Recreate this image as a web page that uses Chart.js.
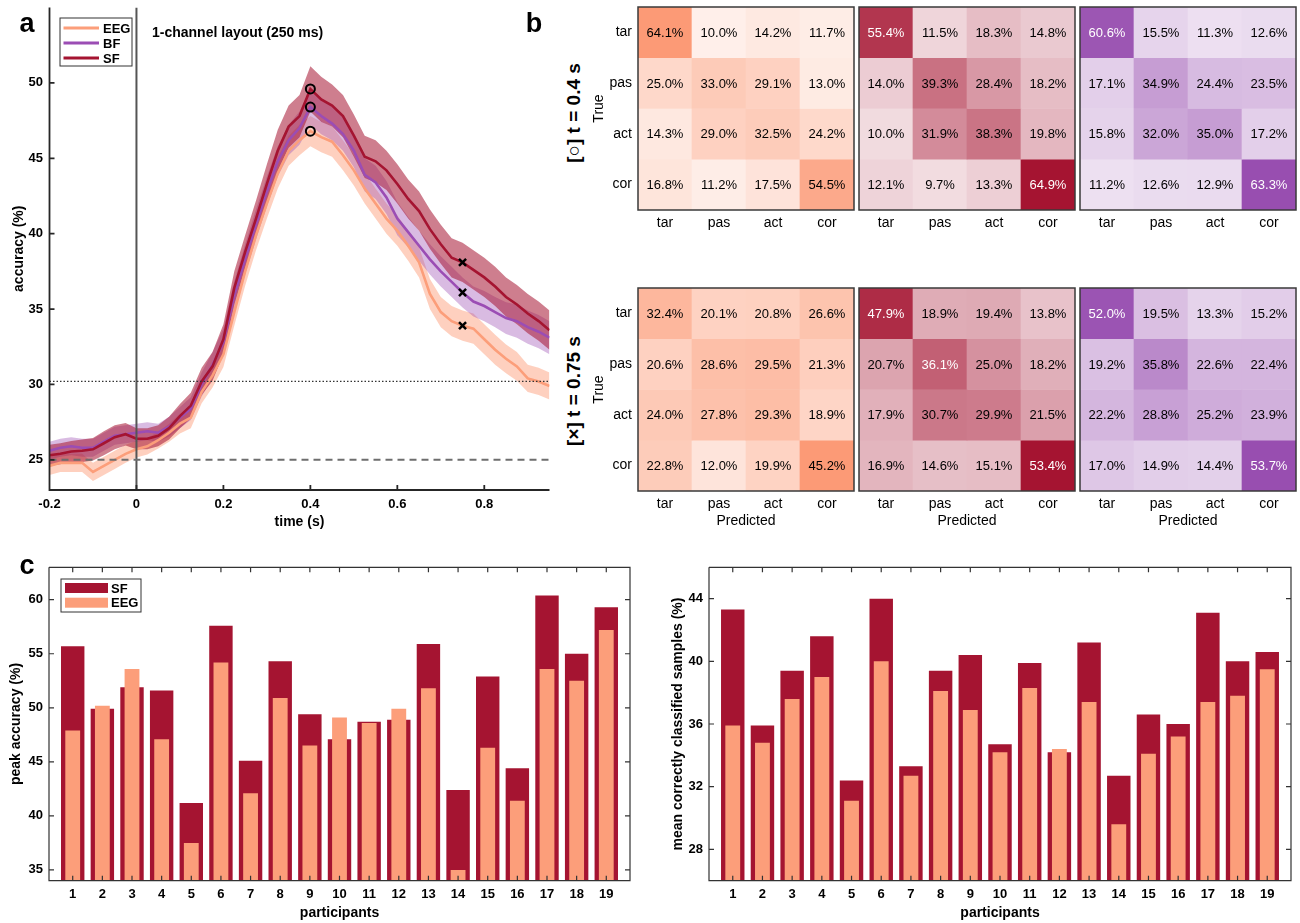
<!doctype html>
<html lang="en">
<head>
<meta charset="utf-8">
<title>1-channel layout (250 ms)</title>
<script src="https://cdn.jsdelivr.net/npm/chart.js"></script>
<style>
  body { margin: 0; background: #fff; font-family: "Liberation Sans", Arial, Helvetica, sans-serif; }
  #fig { position: relative; width: 1300px; height: 923px; overflow: hidden; }
  #fig canvas { position: absolute; }
  .lbl { position: absolute; font-weight: bold; color: #000; white-space: nowrap; }
  .panel { font-size: 27px; transform: translate(-50%, -50%); }
  .title { font-size: 14px; transform: translateY(-50%); }
  .rowTitle { font-size: 19px; transform: translate(-50%, -50%) rotate(-90deg); }
</style>
</head>
<body>
<div id="fig">
  <canvas id="accChart" width="560" height="540" style="left:0;top:0"></canvas>

  <canvas id="cmEeg04" width="270" height="255" style="left:586px;top:0"></canvas>
  <canvas id="cmSf04" width="270" height="255" style="left:807px;top:0"></canvas>
  <canvas id="cmBf04" width="270" height="255" style="left:1028px;top:0"></canvas>
  <canvas id="cmEeg075" width="270" height="255" style="left:586px;top:281px"></canvas>
  <canvas id="cmSf075" width="270" height="255" style="left:807px;top:281px"></canvas>
  <canvas id="cmBf075" width="270" height="255" style="left:1028px;top:281px"></canvas>

  <canvas id="peakChart" width="640" height="373" style="left:0;top:550px"></canvas>
  <canvas id="meanChart" width="650" height="373" style="left:650px;top:550px"></canvas>

  <div class="lbl panel" style="left:27px;top:23px">a</div>
  <div class="lbl panel" style="left:534px;top:23px">b</div>
  <div class="lbl panel" style="left:27px;top:565px">c</div>
  <div class="lbl title" style="left:152px;top:32px">1-channel layout (250 ms)</div>
  <div class="lbl rowTitle" style="left:574px;top:113px">[○] t = 0.4 s</div>
  <div class="lbl rowTitle" style="left:574px;top:391px">[×] t = 0.75 s</div>
</div>

<script>
    // ---- panel a: accuracy over time (mean and error band) ----
    const timeS = [-0.2, -0.175, -0.15, -0.125, -0.1, -0.075, -0.05, -0.025, 0, 0.025, 0.05, 0.075,
        0.1, 0.125, 0.15, 0.175, 0.2, 0.225, 0.25, 0.275, 0.3, 0.325, 0.35, 0.375, 0.4, 0.425, 0.45,
        0.475, 0.5, 0.525, 0.55, 0.575, 0.6, 0.625, 0.65, 0.675, 0.7, 0.725, 0.75, 0.775, 0.8, 0.825,
        0.85, 0.875, 0.9, 0.925, 0.95];
    const eegAcc = [24.6, 24.8, 24.8, 24.8, 24.2, 24.6, 25.0, 25.4, 25.7, 25.9, 26.3, 26.8,
        27.4, 27.8, 29.5, 30.6, 32.0, 34.8, 37.5, 39.9, 42.0, 44.0, 45.5, 46.2, 46.8, 46.4, 46.1,
        45.2, 44.2, 43.0, 42.0, 41.0, 40.2, 39.2, 38.1, 36.0, 34.8, 34.2, 33.9, 33.7, 33.0, 32.3,
        31.7, 31.2, 30.4, 30.2, 29.9];
    const eegErr = [0.6, 0.6, 0.6, 0.6, 0.6, 0.6, 0.6, 0.6, 0.55, 0.55, 0.55, 0.6,
        0.65, 0.7, 0.75, 0.8, 0.85, 0.9, 0.95, 1.0, 1.0, 1.0, 1.0, 1.0, 1.0, 1.0, 1.0,
        1.0, 1.0, 1.0, 1.0, 1.0, 1.0, 1.0, 1.0, 1.0, 1.0, 1.0, 1.0, 1.0, 1.0, 1.0,
        0.95, 0.95, 0.9, 0.9, 0.9];
    const bfAcc = [25.6, 25.8, 25.9, 25.8, 25.8, 26.2, 26.6, 26.7, 26.8, 26.9, 26.8, 27.2,
        27.8, 28.4, 30.0, 31.3, 32.8, 35.9, 38.3, 40.6, 42.8, 44.8, 46.2, 47.0, 48.4, 47.8, 47.3,
        46.6, 45.5, 43.9, 43.4, 42.4, 41.0, 40.1, 39.2, 38.3, 37.5, 36.8, 36.1, 35.5, 35.2, 34.8,
        34.4, 34.2, 33.8, 33.5, 33.1];
    const bfErr = [0.6, 0.6, 0.6, 0.6, 0.6, 0.6, 0.6, 0.6, 0.6, 0.6, 0.6, 0.65,
        0.7, 0.75, 0.8, 0.85, 0.9, 0.95, 1.0, 1.0, 1.0, 1.0, 1.0, 1.1, 1.2, 1.2, 1.1,
        1.1, 1.1, 1.1, 1.1, 1.1, 1.1, 1.0, 1.0, 1.0, 1.0, 1.0, 1.0, 1.0, 1.0, 1.0,
        1.05, 1.1, 1.1, 1.1, 1.1];
    const sfAcc = [25.3, 25.4, 25.55, 25.6, 25.7, 26.1, 26.5, 26.7, 26.4, 26.4, 26.6, 27.1,
        27.9, 28.6, 30.2, 31.2, 33.0, 36.4, 38.8, 41.0, 43.3, 45.5, 47.1, 47.8, 49.6, 48.9, 48.5,
        47.8, 46.5, 45.1, 44.8, 44.2, 43.3, 42.3, 41.5, 40.3, 39.3, 38.4, 38.1, 37.6, 37.1, 36.5,
        35.8, 35.3, 34.7, 34.2, 33.6];
    const sfErr = [0.7, 0.7, 0.7, 0.75, 0.75, 0.8, 0.8, 0.75, 0.7, 0.7, 0.7, 0.75,
        0.8, 0.85, 0.9, 0.95, 1.0, 1.1, 1.1, 1.2, 1.3, 1.4, 1.4, 1.4, 1.5, 1.5, 1.4,
        1.4, 1.4, 1.4, 1.4, 1.3, 1.3, 1.3, 1.3, 1.3, 1.3, 1.3, 1.3, 1.3, 1.3, 1.3,
        1.3, 1.3, 1.3, 1.3, 1.3];
    const timeTicks = [-0.2, 0, 0.2, 0.4, 0.6, 0.8];
    const accTicks = [25, 30, 35, 40, 45, 50];
    const chanceLevel = 25;
    const sigLevel = 30.2;
    const onsetTime = 0;
    const circleTime = 0.4;
    const crossTime = 0.75;

    // ---- panel b: confusion matrices (rows true, columns predicted) ----
    const classNames = ['tar', 'pas', 'act', 'cor'];
    const cmEeg04 = [[64.1, 10.0, 14.2, 11.7], [25.0, 33.0, 29.1, 13.0], [14.3, 29.0, 32.5, 24.2], [16.8, 11.2, 17.5, 54.5]];
    const cmSf04 = [[55.4, 11.5, 18.3, 14.8], [14.0, 39.3, 28.4, 18.2], [10.0, 31.9, 38.3, 19.8], [12.1, 9.7, 13.3, 64.9]];
    const cmBf04 = [[60.6, 15.5, 11.3, 12.6], [17.1, 34.9, 24.4, 23.5], [15.8, 32.0, 35.0, 17.2], [11.2, 12.6, 12.9, 63.3]];
    const cmEeg075 = [[32.4, 20.1, 20.8, 26.6], [20.6, 28.6, 29.5, 21.3], [24.0, 27.8, 29.3, 18.9], [22.8, 12.0, 19.9, 45.2]];
    const cmSf075 = [[47.9, 18.9, 19.4, 13.8], [20.7, 36.1, 25.0, 18.2], [17.9, 30.7, 29.9, 21.5], [16.9, 14.6, 15.1, 53.4]];
    const cmBf075 = [[52.0, 19.5, 13.3, 15.2], [19.2, 35.8, 22.6, 22.4], [22.2, 28.8, 25.2, 23.9], [17.0, 14.9, 14.4, 53.7]];

    // ---- panel c: per participant ----
    const participants = [1, 2, 3, 4, 5, 6, 7, 8, 9, 10, 11, 12, 13, 14, 15, 16, 17, 18, 19];
    const peakSF = [55.7, 49.9, 51.9, 51.6, 41.2, 57.6, 45.1, 54.3, 49.4, 47.1, 48.7, 48.9, 55.9, 42.4, 52.9, 44.4, 60.4, 55.0, 59.3];
    const peakEEG = [47.9, 50.2, 53.6, 47.1, 37.5, 54.2, 42.1, 50.9, 46.5, 49.1, 48.6, 49.9, 51.8, 35.0, 46.3, 41.4, 53.6, 52.5, 57.2];
    const meanSF = [43.3, 35.9, 39.4, 41.6, 32.4, 44.0, 33.3, 39.4, 40.4, 34.7, 39.9, 34.2, 41.2, 32.7, 36.6, 36.0, 43.1, 40.0, 40.6];
    const meanEEG = [35.9, 34.8, 37.6, 39.0, 31.1, 40.0, 32.7, 38.1, 36.9, 34.2, 38.3, 34.4, 37.4, 29.6, 34.1, 35.2, 37.4, 37.8, 39.5];
    const peakTicks = [35, 40, 45, 50, 55, 60];
    const meanTicks = [28, 32, 36, 40, 44];

    const COL_EEG = 'rgb(252,158,122)';
    const COL_BF = 'rgb(155,77,180)';
    const COL_SF = 'rgb(165,20,49)';
    const BASE_EEG = [252, 154, 118];
    const BASE_SF = [165, 20, 49];
    const BASE_BF = [152, 78, 176];

    Chart.defaults.font.family = '"Liberation Sans", Arial, Helvetica, sans-serif';
    Chart.defaults.color = '#000';
    Chart.defaults.animation = false;
    Chart.defaults.plugins.legend.display = false;
    Chart.defaults.plugins.tooltip.enabled = false;

    const boldTick = {size: 13, weight: 'bold'};
    const boldTitle = {size: 14, weight: 'bold'};

    // fixed axis sizes, no extra room for overhanging tick labels
    const fixWidth = w => s => { s.width = w; s.paddingTop = 0; s.paddingBottom = 0; };
    const fixHeight = h => s => { s.height = h; s.paddingLeft = 0; s.paddingRight = 0; };

    // axis lines and inward tick marks, matlab style
    const frame = {
        id: 'frame',
        afterDatasetsDraw(chart, args, o) {
            const {ctx, chartArea: a, scales: {x, y}} = chart;
            ctx.save();
            ctx.strokeStyle = o.color;
            ctx.lineWidth = o.width;
            ctx.beginPath();
            ctx.moveTo(a.left, a.top);
            ctx.lineTo(a.left, a.bottom);
            ctx.lineTo(a.right, a.bottom);
            if (o.box) {
                ctx.lineTo(a.right, a.top);
                ctx.lineTo(a.left, a.top);
            }
            x.ticks.forEach(t => {
                const px = x.getPixelForValue(t.value);
                ctx.moveTo(px, a.bottom);
                ctx.lineTo(px, a.bottom - o.tick);
                if (o.box) {
                    ctx.moveTo(px, a.top);
                    ctx.lineTo(px, a.top + o.tick);
                }
            });
            y.ticks.forEach(t => {
                const py = y.getPixelForValue(t.value);
                ctx.moveTo(a.left, py);
                ctx.lineTo(a.left + o.tick, py);
                if (o.box) {
                    ctx.moveTo(a.right, py);
                    ctx.lineTo(a.right - o.tick, py);
                }
            });
            ctx.stroke();
            ctx.restore();
        }
    };

    // small boxed legend
    const keyBox = {
        id: 'keyBox',
        afterDraw(chart, args, o) {
            if (!o.items) return;
            const ctx = chart.ctx;
            ctx.save();
            ctx.fillStyle = '#fff';
            ctx.fillRect(o.x, o.y, o.w, o.h);
            ctx.strokeStyle = '#333';
            ctx.lineWidth = 1;
            ctx.strokeRect(o.x, o.y, o.w, o.h);
            ctx.font = 'bold 13px "Liberation Sans", Arial, sans-serif';
            ctx.textBaseline = 'middle';
            o.items.forEach((it, i) => {
                const cy = o.y + o.first + i * o.step;
                if (o.rect) {
                    ctx.fillStyle = it.color;
                    ctx.fillRect(o.x + 4, cy - 5, 43, 10);
                } else {
                    ctx.strokeStyle = it.color;
                    ctx.lineWidth = 3;
                    ctx.beginPath();
                    ctx.moveTo(o.x + 3.5, cy);
                    ctx.lineTo(o.x + 39, cy);
                    ctx.stroke();
                }
                ctx.fillStyle = '#000';
                ctx.fillText(it.label, o.x + o.textX, cy + 1);
            });
            ctx.restore();
        }
    };

    // ---------- panel a ----------
    const accSeries = [
        {label: 'EEG', acc: eegAcc, err: eegErr, line: COL_EEG, band: 'rgba(252,150,112,0.45)'},
        {label: 'BF', acc: bfAcc, err: bfErr, line: COL_BF, band: 'rgba(155,77,180,0.38)'},
        {label: 'SF', acc: sfAcc, err: sfErr, line: COL_SF, band: 'rgba(165,20,49,0.55)'}
    ];
    const xy = vals => timeS.map((t, i) => ({x: t, y: vals[i]}));
    const accDatasets = [];
    accSeries.forEach((s, k) => {
        accDatasets.push({
            data: xy(s.acc.map((v, i) => v + s.err[i])), fill: '+1', backgroundColor: s.band,
            borderWidth: 0, pointRadius: 0, order: 30 - k
        });
        accDatasets.push({
            data: xy(s.acc.map((v, i) => v - s.err[i])), fill: false,
            borderWidth: 0, pointRadius: 0, order: 30 - k
        });
    });
    accSeries.forEach((s, k) => {
        accDatasets.push({
            label: s.label, data: xy(s.acc), borderColor: s.line, borderWidth: 2.6,
            pointRadius: 0, fill: false, order: 20 - k
        });
    });
    accDatasets.push({
        data: [{x: -0.2, y: chanceLevel}, {x: 0.95, y: chanceLevel}], borderColor: '#6e6e6e',
        borderWidth: 2, borderDash: [7, 5], pointRadius: 0, fill: false, order: 5
    });
    accDatasets.push({
        data: [{x: -0.2, y: sigLevel}, {x: 0.95, y: sigLevel}], borderColor: '#333',
        borderWidth: 1.3, borderDash: [1.5, 2], pointRadius: 0, fill: false, order: 5
    });
    accDatasets.push({
        data: [{x: onsetTime, y: 23}, {x: onsetTime, y: 55}], borderColor: '#555',
        borderWidth: 2, pointRadius: 0, fill: false, order: 5
    });
    const iCircle = timeS.indexOf(circleTime);
    const iCross = timeS.indexOf(crossTime);
    accDatasets.push({
        data: accSeries.map(s => ({x: circleTime, y: s.acc[iCircle]})), showLine: false,
        pointStyle: 'circle', pointRadius: 4.5, pointBorderWidth: 2, pointBorderColor: '#000',
        pointBackgroundColor: 'rgba(0,0,0,0)', order: 1
    });
    accDatasets.push({
        data: accSeries.map(s => ({x: crossTime, y: s.acc[iCross]})), showLine: false,
        pointStyle: 'crossRot', pointRadius: 5, pointBorderWidth: 2.5, pointBorderColor: '#000',
        order: 1
    });

    new Chart(document.getElementById('accChart'), {
        type: 'line',
        data: {datasets: accDatasets},
        options: {
            responsive: false,
            layout: {padding: {left: 0, right: 10.5, top: 7, bottom: 0}},
            scales: {
                x: {
                    type: 'linear', min: -0.2, max: 0.95,
                    afterBuildTicks: s => { s.ticks = timeTicks.map(v => ({value: v})); },
                    afterFit: fixHeight(50),
                    ticks: {font: boldTick, padding: 6.2, maxRotation: 0, autoSkip: false, callback: v => String(v)},
                    grid: {display: false, drawTicks: false},
                    border: {display: false},
                    title: {display: true, text: 'time (s)', font: boldTitle, padding: {top: 0, bottom: 9.9}}
                },
                y: {
                    min: 23, max: 55,
                    afterBuildTicks: s => { s.ticks = accTicks.map(v => ({value: v})); },
                    afterFit: fixWidth(49.5),
                    ticks: {font: boldTick, padding: 6.5},
                    grid: {display: false, drawTicks: false},
                    border: {display: false},
                    title: {display: true, text: 'accuracy (%)', font: boldTitle, padding: {top: 10.6, bottom: 0}}
                }
            },
            plugins: {
                frame: {box: false, tick: 5, color: '#262626', width: 1.8},
                keyBox: {
                    x: 60, y: 18, w: 72, h: 48, first: 10, step: 15, textX: 43, rect: false,
                    items: accSeries.map(s => ({label: s.label, color: s.line}))
                }
            }
        },
        plugins: [frame, keyBox]
    });

    // ---------- panel b ----------
    function shade(base, a) {
        return base.map(c => Math.round(255 - (255 - c) * a));
    }

    const cellText = {
        id: 'cellText',
        afterDatasetsDraw(chart, args, o) {
            const ctx = chart.ctx;
            ctx.save();
            ctx.font = '13px "Liberation Sans", Arial, sans-serif';
            ctx.textAlign = 'center';
            ctx.textBaseline = 'middle';
            o.values.forEach((row, r) => {
                chart.getDatasetMeta(r).data.forEach((bar, c) => {
                    const [cr, cg, cb] = shade(o.base, row[c] / o.max);
                    const lum = 0.299 * cr + 0.587 * cg + 0.114 * cb;
                    ctx.fillStyle = lum < 135 ? '#fff' : '#000';
                    ctx.fillText(row[c].toFixed(1) + '%', bar.x, (bar.y + bar.base) / 2 + 1);
                });
            });
            const a = chart.chartArea;
            ctx.strokeStyle = '#3a3a3a';
            ctx.lineWidth = 1.5;
            ctx.strokeRect(a.left, a.top, a.right - a.left, a.bottom - a.top);
            ctx.restore();
        }
    };

    function makeMatrix(id, values, base, showRows, showPred) {
        const max = Math.max(...values.flat());
        new Chart(document.getElementById(id), {
            type: 'bar',
            data: {
                labels: classNames,
                datasets: values.map((row, r) => ({
                    data: row.map(() => [r, r + 1]),
                    backgroundColor: row.map(v => 'rgb(' + shade(base, v / max).join(',') + ')'),
                    grouped: false, barPercentage: 1, categoryPercentage: 1, borderWidth: 0
                }))
            },
            options: {
                responsive: false,
                layout: {padding: {left: 0, right: 2, top: 7, bottom: 0}},
                scales: {
                    x: {
                        afterFit: fixHeight(45),
                        ticks: {font: {size: 14}, padding: 4.5, maxRotation: 0},
                        grid: {display: false, drawTicks: false},
                        border: {display: false},
                        title: {display: showPred, text: 'Predicted', font: {size: 14}, padding: {top: 0, bottom: 6.6}}
                    },
                    y: {
                        display: showRows,
                        min: 0, max: 4, reverse: true,
                        afterBuildTicks: s => { s.ticks = classNames.map((n, i) => ({value: i + 0.5})); },
                        afterFit: fixWidth(52),
                        ticks: {font: {size: 14}, padding: 6, callback: (v, i) => classNames[i]},
                        grid: {display: false, drawTicks: false},
                        border: {display: false},
                        title: {display: true, text: 'True', font: {size: 14}, padding: {top: 5, bottom: 0}}
                    }
                },
                plugins: {cellText: {values, base, max}}
            },
            plugins: [cellText]
        });
    }

    makeMatrix('cmEeg04', cmEeg04, BASE_EEG, true, false);
    makeMatrix('cmSf04', cmSf04, BASE_SF, false, false);
    makeMatrix('cmBf04', cmBf04, BASE_BF, false, false);
    makeMatrix('cmEeg075', cmEeg075, BASE_EEG, true, true);
    makeMatrix('cmSf075', cmSf075, BASE_SF, false, true);
    makeMatrix('cmBf075', cmBf075, BASE_BF, false, true);

    // ---------- panel c ----------
    function makeBars(id, sf, eeg, yMin, yMax, yTicks, yTitle, axisW, titlePad, rightPad, withKey) {
        new Chart(document.getElementById(id), {
            type: 'bar',
            data: {
                datasets: [
                    {label: 'SF', data: participants.map((p, i) => ({x: p, y: sf[i]})), backgroundColor: COL_SF,
                        grouped: false, barPercentage: 0.79, categoryPercentage: 1, order: 2},
                    {label: 'EEG', data: participants.map((p, i) => ({x: p, y: eeg[i]})), backgroundColor: COL_EEG,
                        grouped: false, barPercentage: 0.5, categoryPercentage: 1, order: 1}
                ]
            },
            options: {
                responsive: false,
                layout: {padding: {left: 0, right: rightPad, top: 17.3, bottom: 0}},
                scales: {
                    x: {
                        type: 'linear', min: 0.2, max: 19.8, offset: false,
                        afterBuildTicks: s => { s.ticks = participants.map(v => ({value: v})); },
                        afterFit: fixHeight(42.3),
                        ticks: {font: boldTick, padding: 5.5, maxRotation: 0, autoSkip: false},
                        grid: {display: false, drawTicks: false, offset: false},
                        border: {display: false},
                        title: {display: true, text: 'participants', font: boldTitle, padding: {top: 0, bottom: 1.6}}
                    },
                    y: {
                        min: yMin, max: yMax,
                        afterBuildTicks: s => { s.ticks = yTicks.map(v => ({value: v})); },
                        afterFit: fixWidth(axisW),
                        ticks: {font: boldTick, padding: 6},
                        grid: {display: false, drawTicks: false},
                        border: {display: false},
                        title: {display: true, text: yTitle, font: boldTitle, padding: {top: titlePad, bottom: 0}}
                    }
                },
                plugins: {
                    frame: {box: true, tick: 5, color: '#333', width: 1.2},
                    keyBox: withKey ? {
                        x: 61, y: 29, w: 80, h: 33, first: 9, step: 14.7, textX: 50, rect: true,
                        items: [{label: 'SF', color: COL_SF}, {label: 'EEG', color: COL_EEG}]
                    } : {}
                }
            },
            plugins: [frame, keyBox]
        });
    }

    makeBars('peakChart', peakSF, peakEEG, 34, 63, peakTicks, 'peak accuracy (%)', 49, 8.2, 10, true);
    makeBars('meanChart', meanSF, meanEEG, 26, 46, meanTicks, 'mean correctly classified samples (%)', 59, 19.6, 9, false);
</script>
</body>
</html>
